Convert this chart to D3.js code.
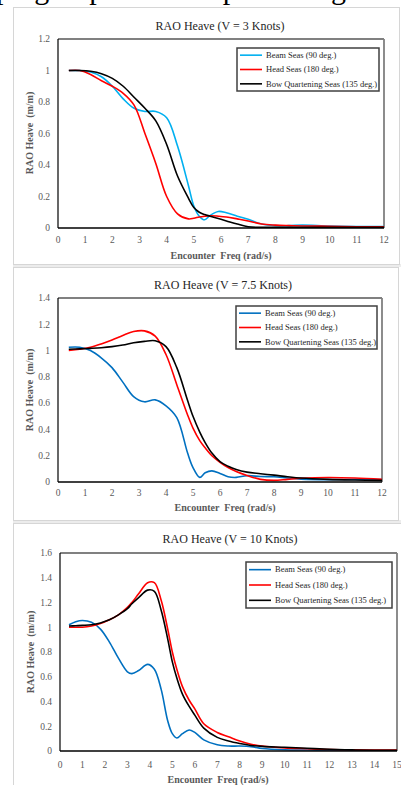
<!DOCTYPE html>
<meta charset="utf-8">
<style>
body { margin: 0; background: #fff; }
svg { display: block; font-family: "Liberation Serif", "Times New Roman", serif; }
.tick-label { fill: #595959; font-size: 9.5px; }
.axis-title { fill: #595959; font-size: 10px; font-weight: bold; white-space: pre; }
.chart-title { fill: #262626; font-size: 12px; }
.legend text { fill: #262626; font-size: 8.5px; }
</style>
<body>
<svg width="401" height="785"></svg>
<script src="https://d3js.org/d3.v7.min.js"></script>
<script>

// ---- data ----
var seriesNames = ["Beam Seas (90 deg.)", "Head Seas (180 deg.)", "Bow Quartening Seas (135 deg.)"];

// V = 3 knots
var freqA = [0.4, 0.8, 1.2, 1.6, 2.0, 2.4, 2.8, 3.2, 3.6, 4.0, 4.4, 4.8, 5.0, 5.2, 5.4, 5.6, 5.9, 6.2, 6.6, 7.0, 7.5, 8, 8.5, 9, 10, 11, 12];
var beamA = [1.0, 1.0, 0.99, 0.96, 0.9, 0.82, 0.76, 0.74, 0.74, 0.7, 0.52, 0.27, 0.14, 0.075, 0.052, 0.08, 0.105, 0.097, 0.075, 0.055, 0.025, 0.015, 0.015, 0.018, 0.012, 0.01, 0.01];
var headA = [1.0, 1.0, 0.975, 0.935, 0.9, 0.855, 0.78, 0.6, 0.41, 0.2, 0.09, 0.058, 0.062, 0.07, 0.075, 0.078, 0.075, 0.07, 0.058, 0.045, 0.025, 0.018, 0.015, 0.013, 0.011, 0.008, 0.008];
var bowA  = [1.0, 1.0, 0.995, 0.98, 0.95, 0.9, 0.83, 0.76, 0.68, 0.53, 0.33, 0.19, 0.13, 0.1, 0.085, 0.075, 0.06, 0.045, 0.025, 0.008, 0.004, 0.004, 0.005, 0.005, 0.005, 0.005, 0.005];

// V = 7.5 knots
var freqB = [0.4, 0.8, 1.2, 1.6, 2.0, 2.4, 2.8, 3.2, 3.6, 4.0, 4.4, 4.8, 5.0, 5.25, 5.45, 5.7, 6.0, 6.3, 6.6, 7.0, 7.5, 8, 8.5, 9, 10, 11, 12];
var beamB = [1.025, 1.025, 1.0, 0.945, 0.87, 0.76, 0.65, 0.61, 0.625, 0.58, 0.49, 0.22, 0.11, 0.035, 0.07, 0.085, 0.065, 0.04, 0.035, 0.048, 0.042, 0.04, 0.03, 0.022, 0.018, 0.02, 0.018];
var headB = [1.0, 1.01, 1.025, 1.05, 1.08, 1.115, 1.145, 1.15, 1.11, 0.97, 0.74, 0.51, 0.41, 0.315, 0.26, 0.2, 0.15, 0.11, 0.08, 0.05, 0.02, 0.012, 0.02, 0.028, 0.034, 0.03, 0.02];
var bowB  = [1.01, 1.013, 1.017, 1.022, 1.03, 1.042, 1.06, 1.07, 1.075, 1.03, 0.87, 0.62, 0.5, 0.38, 0.3, 0.22, 0.155, 0.12, 0.095, 0.075, 0.063, 0.052, 0.04, 0.03, 0.02, 0.015, 0.012];

// V = 10 knots
var freqC = [0.4, 0.7, 1.0, 1.4, 1.8, 2.2, 2.6, 3.0, 3.2, 3.5, 3.9, 4.2, 4.5, 4.8, 5.0, 5.2, 5.45, 5.75, 6.0, 6.4, 7, 7.5, 8, 8.5, 9, 10, 11, 12, 13, 14, 15];
var beamC = [1.02, 1.045, 1.055, 1.04, 0.985, 0.88, 0.75, 0.64, 0.625, 0.65, 0.7, 0.66, 0.5, 0.24, 0.14, 0.105, 0.14, 0.17, 0.15, 0.09, 0.05, 0.04, 0.04, 0.035, 0.02, 0.01, 0.008, 0.005, 0.004, 0.003, 0.003];
var headC = [1.0, 1.0, 1.0, 1.01, 1.03, 1.06, 1.1, 1.16, 1.2, 1.27, 1.36, 1.36, 1.22, 0.98, 0.8, 0.66, 0.52, 0.41, 0.34, 0.22, 0.15, 0.115, 0.08, 0.055, 0.04, 0.025, 0.018, 0.012, 0.01, 0.008, 0.008];
var bowC  = [1.01, 1.012, 1.015, 1.02, 1.035, 1.06, 1.1, 1.15, 1.19, 1.24, 1.3, 1.29, 1.14, 0.9, 0.72, 0.59, 0.46, 0.36, 0.29, 0.185, 0.11, 0.08, 0.06, 0.045, 0.037, 0.03, 0.022, 0.014, 0.009, 0.006, 0.005];

var titles = ["RAO Heave (V = 3 Knots)", "RAO Heave (V = 7.5 Knots)", "RAO Heave (V = 10 Knots)"];
var xTicksAB = d3.range(0, 13);
var xTicksC = d3.range(0, 16);
var yTicksA = [0, 0.2, 0.4, 0.6, 0.8, 1, 1.2];
var yTicksB = [0, 0.2, 0.4, 0.6, 0.8, 1, 1.2, 1.4];
var yTicksC = [0, 0.2, 0.4, 0.6, 0.8, 1, 1.2, 1.4, 1.6];

// ---- layout of each pasted chart ----
var charts = [
  { freq: freqA, vals: [beamA, headA, bowA], title: titles[0], xTicks: xTicksAB, yTicks: yTicksA,
    colors: ["#00b0f0", "#ff0000", "#000000"],
    frame: [13, 7, 399, 264], plot: [58, 39, 384, 228], titleX: 220, titleY: 30,
    tickY: 243, xTitleX: 221, xTitleY: 259, yTitleX: 29, yTitleY: 133, legend: [237, 48, 379, 91] },
  { freq: freqB, vals: [beamB, headB, bowB], title: titles[1], xTicks: xTicksAB, yTicks: yTicksB,
    colors: ["#0070c0", "#ff0000", "#000000"],
    frame: [13, 267, 398, 520], plot: [58, 298, 382, 482], titleX: 223, titleY: 289,
    tickY: 496, xTitleX: 225, xTitleY: 511, yTitleX: 29, yTitleY: 390, legend: [236, 306, 377, 349] },
  { freq: freqC, vals: [beamC, headC, bowC], title: titles[2], xTicks: xTicksC, yTicks: yTicksC,
    colors: ["#0070c0", "#ff0000", "#000000"],
    frame: [13, 523, 420, 800], plot: [60, 553, 397, 751], titleX: 230, titleY: 543,
    tickY: 768, xTitleX: 218, xTitleY: 783, yTitleX: 30, yTitleY: 652, legend: [246, 562, 392, 608] }
];

var svg = d3.select("svg");

// cut-off line of the document text above the first figure
svg.append("text")
    .attr("x", -4)
    .attr("y", -1)
    .style("font-size", "30px")
    .style("fill", "#000")
    .text("ping of pitch to response to g");

// grey gaps between the pasted pictures
svg.append("rect").attr("x", 13).attr("y", 264).attr("width", 388).attr("height", 3).attr("fill", "#ececec");
svg.append("rect").attr("x", 13).attr("y", 520).attr("width", 388).attr("height", 3).attr("fill", "#ececec");

charts.forEach(function(c, ci) {
  var g = svg.append("g");

  g.append("rect")
      .attr("x", c.frame[0] + 0.5).attr("y", c.frame[1] + 0.5)
      .attr("width", c.frame[2] - c.frame[0]).attr("height", c.frame[3] - c.frame[1])
      .attr("fill", "#fff").attr("stroke", "#d6d6d6");

  var x = d3.scaleLinear().domain([0, d3.max(c.xTicks)]).range([c.plot[0], c.plot[2]]),
      y = d3.scaleLinear().domain([0, d3.max(c.yTicks)]).range([c.plot[3], c.plot[1]]);

  // plot area border: grey top/right, black axes
  g.append("line").attr("x1", c.plot[0]).attr("x2", c.plot[2]).attr("y1", c.plot[1]).attr("y2", c.plot[1])
      .attr("stroke", "#808080").attr("stroke-width", 1.8);
  g.append("line").attr("x1", c.plot[2]).attr("x2", c.plot[2]).attr("y1", c.plot[1]).attr("y2", c.plot[3])
      .attr("stroke", "#808080").attr("stroke-width", 1.8);

  var clipId = "clip" + ci;
  g.append("clipPath").attr("id", clipId).append("rect")
      .attr("x", c.plot[0]).attr("y", c.plot[1] - 5)
      .attr("width", c.plot[2] - c.plot[0]).attr("height", c.plot[3] - c.plot[1] + 5);

  var line = d3.line()
      .x(function(d) { return x(d[0]); })
      .y(function(d) { return y(d[1]); })
      .curve(d3.curveCatmullRom.alpha(0.5));

  c.vals.forEach(function(v, si) {
    var pts = c.freq.map(function(f, i) { return [f, v[i]]; });
    g.append("path")
        .attr("clip-path", "url(#" + clipId + ")")
        .attr("d", line(pts))
        .attr("fill", "none")
        .attr("stroke", c.colors[si])
        .attr("stroke-width", 1.6);
  });

  g.append("line").attr("x1", c.plot[0]).attr("x2", c.plot[0]).attr("y1", c.plot[1]).attr("y2", c.plot[3])
      .attr("stroke", "#000").attr("stroke-width", 1.2);
  g.append("line").attr("x1", c.plot[0]).attr("x2", c.plot[2]).attr("y1", c.plot[3]).attr("y2", c.plot[3])
      .attr("stroke", "#000").attr("stroke-width", 1.6);

  // tick labels
  g.selectAll(".xt").data(c.xTicks).enter().append("text")
      .attr("class", "tick-label")
      .attr("x", function(d) { return x(d); })
      .attr("y", c.tickY)
      .attr("text-anchor", "middle")
      .text(function(d) { return d; });

  g.selectAll(".yt").data(c.yTicks).enter().append("text")
      .attr("class", "tick-label")
      .attr("x", c.plot[0] - 8)
      .attr("y", function(d) { return y(d); })
      .attr("dy", "0.35em")
      .attr("text-anchor", "end")
      .text(function(d) { return d; });

  // titles
  g.append("text").attr("class", "chart-title")
      .attr("x", c.titleX).attr("y", c.titleY)
      .attr("text-anchor", "middle")
      .text(c.title);

  g.append("text").attr("class", "axis-title")
      .attr("x", c.xTitleX).attr("y", c.xTitleY)
      .attr("text-anchor", "middle")
      .text("Encounter  Freq (rad/s)");

  g.append("text").attr("class", "axis-title")
      .attr("transform", "translate(" + c.yTitleX + "," + c.yTitleY + ") rotate(-90)")
      .attr("dy", "0.35em")
      .attr("text-anchor", "middle")
      .text("RAO Heave  (m/m)");

  // legend
  var L = c.legend, lh = L[3] - L[1];
  var lg = g.append("g").attr("class", "legend");
  lg.append("rect")
      .attr("x", L[0]).attr("y", L[1])
      .attr("width", L[2] - L[0]).attr("height", lh)
      .attr("fill", "#fff").attr("stroke", "#404040").attr("stroke-width", 1.5);

  seriesNames.forEach(function(name, si) {
    var ly = L[1] + lh * (1 / 6 + si / 3);
    lg.append("line")
        .attr("x1", L[0] + 3).attr("x2", L[0] + 25)
        .attr("y1", ly).attr("y2", ly)
        .attr("stroke", c.colors[si]).attr("stroke-width", 1.6);
    lg.append("text")
        .attr("x", L[0] + 29).attr("y", ly)
        .attr("dy", "0.33em")
        .text(name);
  });
});

</script>
</body>
